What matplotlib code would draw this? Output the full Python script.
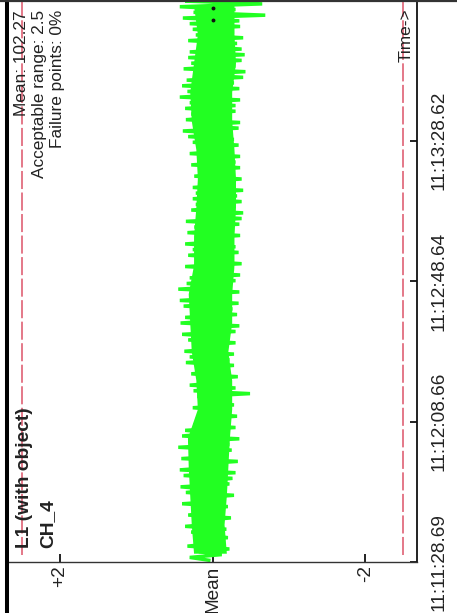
import matplotlib
matplotlib.use("Agg")
import matplotlib.pyplot as plt
import numpy as np
from matplotlib.lines import Line2D

# deviation from the mean, oldest sample first
deviation = [
    0.05, 0.30, -0.12, 0.18, -0.22, 0.33, -0.05, 0.22, -0.20, 0.10,
    0.28, -0.18, 0.36, -0.10, 0.15, -0.24, 0.32, -0.02, 0.25, -0.20,
    0.40, -0.15, 0.22, -0.28, 0.35, 0.00, 0.42, -0.22, 0.12, -0.26,
    0.38, -0.30, 0.43, -0.08, 0.20, -0.33, 0.41, -0.18, 0.30, -0.25,
    0.45, -0.22, 0.32, -0.35, 0.40, -0.05, 0.36, -0.30, 0.25, -0.20,
    0.22, -0.32, 0.15, -0.20, 0.26, -0.28, 0.10, -0.25, 0.20, -0.49,
    0.25, -0.30, 0.30, -0.15, 0.18, -0.33, 0.28, -0.10, 0.22, -0.28,
    0.35, -0.22, 0.30, -0.28, 0.37, -0.12, 0.26, -0.30, 0.32, -0.18,
    0.40, -0.30, 0.28, -0.35, 0.42, -0.15, 0.36, -0.32, 0.20, -0.26,
    0.38, -0.34, 0.43, -0.20, 0.30, -0.35, 0.45, -0.25, 0.34, -0.30,
    0.30, -0.36, 0.22, -0.28, 0.36, -0.38, 0.18, -0.22, 0.32, -0.34,
    0.26, -0.30, 0.36, -0.20, 0.15, -0.36, 0.33, -0.28, 0.24, -0.35,
    0.35, -0.38, 0.20, -0.40, 0.28, -0.25, 0.22, -0.38, 0.26, -0.32,
    0.22, -0.40, 0.26, -0.30, 0.12, -0.38, 0.24, -0.22, 0.18, -0.36,
    0.28, -0.30, 0.20, -0.36, 0.30, -0.24, 0.15, -0.34, 0.26, -0.28,
    0.32, -0.25, 0.39, -0.34, 0.22, -0.36, 0.35, -0.20, 0.28, -0.30,
    0.36, -0.30, 0.30, -0.36, 0.43, -0.22, 0.33, -0.35, 0.40, -0.28,
    0.34, -0.40, 0.25, -0.43, 0.38, -0.30, 0.28, -0.38, 0.32, -0.42,
    0.30, -0.38, 0.18, -0.32, 0.32, -0.40, 0.22, -0.28, 0.26, -0.36,
    0.30, -0.35, 0.39, -0.69, 0.25, -0.30, 0.43, -0.65, 0.36, -0.30,
]
# solid inner part of the trace, one pair per 8 s
core_hi = [0.25, 0.28, 0.30, 0.32, 0.33, 0.20, 0.22, 0.28, 0.30, 0.32,
           0.25, 0.25, 0.22, 0.20, 0.22, 0.28, 0.30, 0.25, 0.20, 0.25]
core_lo = [-0.18, -0.15, -0.18, -0.20, -0.22, -0.25, -0.25, -0.20, -0.25, -0.25,
           -0.28, -0.28, -0.30, -0.30, -0.28, -0.25, -0.25, -0.30, -0.28, -0.28]
t_first, t_last = 0.5, 160.5          # seconds after 11:11:28.69
marker_t = [154.4, 157.8]
marker_v = [0.0, 0.0]

mean_value = 102.27
limit = 2.5
failure_pct = 0
value_ticks = [2, 0, -2]
value_labels = ["+2", "Mean", "-2"]
time_labels = ["11:11:28.69", "11:12:08.66", "11:12:48.64", "11:13:28.62"]


def to_seconds(label):
    h, m, s = label.split(":")
    return int(h) * 3600 + int(m) * 60 + float(s)


time_ticks = [to_seconds(s) - to_seconds(time_labels[0]) for s in time_labels]
times = np.linspace(t_first, t_last, len(deviation))
core_t = np.linspace(t_first + 2, t_last - 2, len(core_hi))

plt.rcParams["font.family"] = ["Liberation Sans", "DejaVu Sans"]
plt.rcParams["lines.scale_dashes"] = False

W, H = 457, 613
fig = plt.figure(figsize=(W / 100, H / 100), dpi=100)
ax = fig.add_axes([9 / W, 51 / H, (417 - 9) / W, 562 / H])

green = "#22ff22"
red = "#dc5468"
ink = "#222222"

ax.fill_betweenx(core_t, core_lo, core_hi, color=green, lw=0, zorder=2)
ax.plot(deviation, times, color=green, lw=2.5, solid_joinstyle="miter", zorder=2)
ax.plot(marker_v, marker_t, ls="none", marker="o", ms=1.8, color="#111111", zorder=3)
for lim in (limit, -limit):
    ax.plot([lim, lim], [2.0, 161], color=red, lw=1.1, dashes=(13, 2.5), zorder=1)

ax.set_xlim(2.67, -2.68)
ax.set_ylim(0, 160)

for side in ("top", "left"):
    ax.spines[side].set_visible(False)
ax.spines["bottom"].set_color("#333333")
ax.spines["bottom"].set_linewidth(1.0)
ax.spines["right"].set_color("#111111")
ax.spines["right"].set_linewidth(1.3)

ax.set_xticks(value_ticks)
ax.set_xticklabels(value_labels, rotation=90, ha="center", va="top")
ax.tick_params(axis="x", direction="in", length=6, width=1.3, color="#111111",
               pad=2.5, labelsize=13.7, labelcolor=ink)

ax.yaxis.tick_right()
ax.set_yticks(time_ticks)
ax.set_yticklabels(time_labels, rotation=90, va="center")
ax.tick_params(axis="y", direction="in", length=5, width=1.3, color="#111111",
               pad=10, labelsize=13.7, labelcolor=ink)

# frame pieces outside the plotting area
fig.add_artist(Line2D([7 / W, 7 / W], [0, 1], transform=fig.transFigure,
                      color="black", lw=2.9))
fig.add_artist(Line2D([0, 1], [1 - 1 / H, 1 - 1 / H], transform=fig.transFigure,
                      color="#333333", lw=1.6))

txt = dict(rotation=90, rotation_mode="anchor", color=ink)
fig.text(29 / W, 65 / H, "L1 (with object)", ha="left", va="baseline",
         fontsize=13.8, fontweight="bold", **txt)
fig.text(52 / W, 65 / H, "CH_4", ha="left", va="baseline",
         fontsize=13.8, fontweight="bold", **txt)

fig.text(26 / W, 603 / H, f"Mean: {mean_value}", ha="right", va="baseline",
         fontsize=12.4, **txt)
fig.text(44 / W, 603 / H, f"Acceptable range: {limit}", ha="right", va="baseline",
         fontsize=12.4, **txt)
fig.text(62 / W, 603 / H, f"Failure points: {failure_pct}%", ha="right", va="baseline",
         fontsize=12.4, **txt)
fig.text(411 / W, 605 / H, "Time->", ha="right", va="baseline", fontsize=12.4, **txt)

fig.savefig("out.png", dpi=100)
